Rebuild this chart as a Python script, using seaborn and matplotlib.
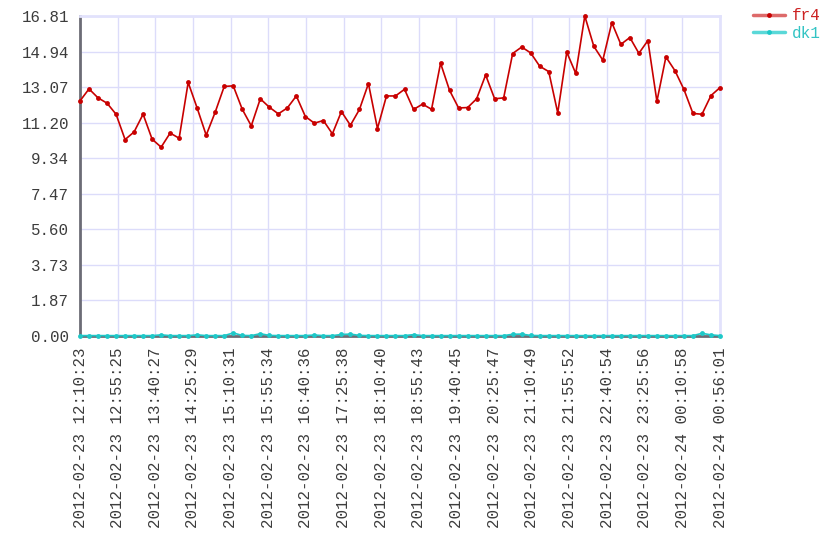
import pandas as pd
import numpy as np
import matplotlib
matplotlib.use("Agg")
import matplotlib.pyplot as plt
import seaborn as sns
from matplotlib.lines import Line2D

# sampled period
start = "2012-02-23 12:10:23"
end = "2012-02-24 00:56:01"

fr4 = [12.35, 12.98, 12.51, 12.23, 11.65, 10.32, 10.72, 11.65, 10.34, 9.92,
       10.66, 10.39, 13.32, 11.97, 10.55, 11.76, 13.11, 13.14, 11.91, 11.04,
       12.46, 12.02, 11.67, 11.98, 12.61, 11.53, 11.18, 11.32, 10.62, 11.79,
       11.07, 11.90, 13.26, 10.90, 12.61, 12.61, 12.96, 11.90, 12.18, 11.91,
       14.33, 12.90, 11.98, 12.00, 12.46, 13.71, 12.46, 12.51, 14.84, 15.18,
       14.87, 14.17, 13.89, 11.72, 14.91, 13.79, 16.81, 15.22, 14.49, 16.46,
       15.32, 15.68, 14.85, 15.52, 12.33, 14.66, 13.94, 12.95, 11.69, 11.65,
       12.63, 13.05]

dk1 = [0.02, 0.02, 0.02, 0.02, 0.02, 0.02, 0.02, 0.02, 0.02, 0.06,
       0.02, 0.02, 0.02, 0.06, 0.02, 0.02, 0.02, 0.16, 0.03, 0.02,
       0.12, 0.03, 0.02, 0.02, 0.02, 0.02, 0.05, 0.02, 0.02, 0.08,
       0.10, 0.03, 0.02, 0.02, 0.02, 0.02, 0.02, 0.07, 0.02, 0.02,
       0.02, 0.02, 0.02, 0.02, 0.02, 0.02, 0.02, 0.02, 0.09, 0.10,
       0.03, 0.02, 0.02, 0.02, 0.02, 0.02, 0.02, 0.02, 0.02, 0.02,
       0.02, 0.02, 0.02, 0.02, 0.02, 0.02, 0.02, 0.02, 0.02, 0.14,
       0.06, 0.02]

x_labels = ["2012-02-23 12:10:23", "2012-02-23 12:55:25", "2012-02-23 13:40:27",
            "2012-02-23 14:25:29", "2012-02-23 15:10:31", "2012-02-23 15:55:34",
            "2012-02-23 16:40:36", "2012-02-23 17:25:38", "2012-02-23 18:10:40",
            "2012-02-23 18:55:43", "2012-02-23 19:40:45", "2012-02-23 20:25:47",
            "2012-02-23 21:10:49", "2012-02-23 21:55:52", "2012-02-23 22:40:54",
            "2012-02-23 23:25:56", "2012-02-24 00:10:58", "2012-02-24 00:56:01"]

y_labels = ["0.00", "1.87", "3.73", "5.60", "7.47", "9.34",
            "11.20", "13.07", "14.94", "16.81"]

series_names = ["fr4", "dk1"]
line_colors = {"fr4": "#c80000", "dk1": "#1ec8c8"}
legend_colors = {"fr4": "#dd6a6a", "dk1": "#5ad8d8"}
text_colors = {"fr4": "#cc2222", "dk1": "#33c4c4"}

times = pd.date_range(start, end, periods=len(fr4))
df = pd.DataFrame({
    "time": list(times) * 2,
    "value": fr4 + dk1,
    "series": ["fr4"] * len(fr4) + ["dk1"] * len(dk1),
})

sns.set_style("white")
plt.rcParams["font.family"] = ["Liberation Mono", "DejaVu Sans Mono"]

fig = plt.figure(figsize=(8.4, 5.6), dpi=100)
ax = fig.add_axes([80 / 840, 1 - 336 / 560, 640 / 840, 320 / 560])

sns.lineplot(data=df, x="time", y="value", hue="series", hue_order=series_names,
             palette=line_colors, marker="o", markersize=3.5, markeredgewidth=0,
             linewidth=1.2, legend=False, ax=ax)
for ln in ax.lines:
    ln.set_clip_on(False)
    ln.set_zorder(4)

ax.set_xlim(pd.Timestamp(start), pd.Timestamp(end))
ax.set_ylim(0, float(y_labels[-1]))
ax.set_xticks(pd.to_datetime(x_labels))
ax.set_xticklabels(x_labels, rotation=90, va="top", ha="center")
ax.set_yticks([float(v) for v in y_labels])
ax.set_yticklabels(y_labels)
ax.set_xlabel("")
ax.set_ylabel("")

grid_c = "#dcdcfa"
ax.grid(True, color=grid_c, linewidth=1)
ax.set_axisbelow(True)
ax.tick_params(axis="both", color=grid_c, length=6, width=1,
               labelsize=11.3, labelcolor="#3c3c3c", pad=2)

for side in ["top", "right"]:
    ax.spines[side].set_color("#e2e2fc")
    ax.spines[side].set_linewidth(2)
for side in ["left", "bottom"]:
    ax.spines[side].set_color("#6c6c76")
    ax.spines[side].set_linewidth(2)

handles = [Line2D([], [], color=legend_colors[n], linewidth=2.5, marker="o",
                  markersize=3.5, markerfacecolor=line_colors[n],
                  markeredgewidth=0) for n in series_names]
fig.legend(handles, series_names, loc="upper left",
           bbox_to_anchor=(742 / 840, 1 + 3 / 560), frameon=False,
           handlelength=2.0, handletextpad=0.4, labelspacing=0.15,
           borderpad=0.2,
           prop={"family": "Liberation Mono", "size": 11.5},
           labelcolor=[text_colors[n] for n in series_names])

fig.savefig("out.png", dpi=100)
